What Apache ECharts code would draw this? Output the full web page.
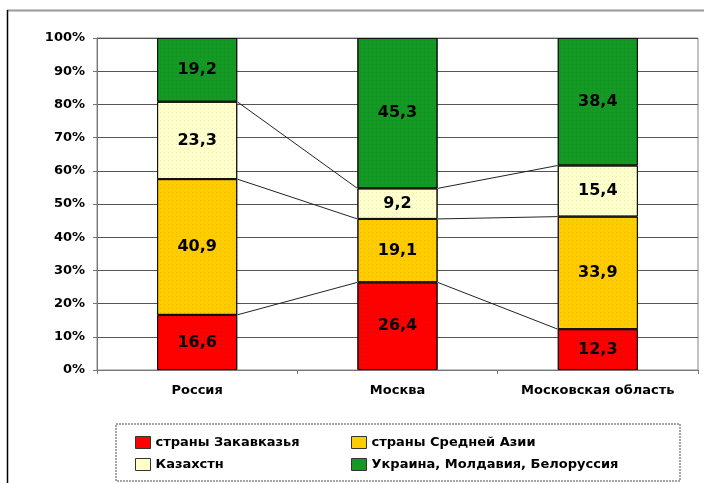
<!DOCTYPE html>
<html>
<head>
<meta charset="utf-8">
<script src="https://cdn.jsdelivr.net/npm/echarts@6/dist/echarts.min.js"></script>
<style>
  html, body { margin: 0; padding: 0; background: #fff; }
  #chart { width: 704px; height: 483px; }
</style>
</head>
<body>
<div id="chart"></div>
<script>
// категории и доли (%)
const categories = ['Россия', 'Москва', 'Московская область'];
const seriesNames = ['страны Закавказья', 'страны Средней Азии', 'Казахстн', 'Украина, Молдавия, Белоруссия'];
const zakavkazie = [16.6, 26.4, 12.3];
const srAzia = [40.9, 19.1, 33.9];
const kazakhstan = [23.3, 9.2, 15.4];
const ukraina = [19.2, 45.3, 38.4];
const colors = ['#ff0000', '#ffcc00', '#ffffcc', '#149a24'];

const allValues = [zakavkazie, srAzia, kazakhstan, ukraina];
const fontFamily = 'DejaVu Sans, sans-serif';

// линии, соединяющие верхние границы сегментов соседних столбцов
const connectors = [];
for (let i = 0; i < categories.length - 1; i++) {
  let a = 0, b = 0;
  for (let s = 0; s < 3; s++) {
    a += allValues[s][i];
    b += allValues[s][i + 1];
    connectors.push([i, a, b]);
  }
}

const chart = echarts.init(document.getElementById('chart'));

const barSeries = allValues.map((vals, idx) => ({
  name: seriesNames[idx],
  type: 'bar',
  stack: 'total',
  barWidth: '40%',
  data: vals,
  itemStyle: {
    color: colors[idx], borderColor: '#111', borderWidth: 1,
    decal: {
      symbol: 'rect', symbolSize: 1,
      dashArrayX: [1, 3], dashArrayY: [1, 3],
      color: 'rgba(0,0,0,0.08)'
    }
  },
  label: {
    show: true,
    position: 'inside',
    color: '#000',
    fontWeight: 'bold',
    fontSize: 16,
    fontFamily: fontFamily,
    formatter: (p) => p.value.toFixed(1).replace('.', ',')
  },
  z: 3
}));

const legendText = { fontSize: 13, fontWeight: 'bold', color: '#000', fontFamily: fontFamily };

const option = {
  animation: false,
  color: colors,
  grid: {
    left: 97, right: 6, top: 38, bottom: 113,
    show: true, borderColor: '#888', borderWidth: 1
  },
  legend: [
    {
      data: [seriesNames[0], seriesNames[2]],
      orient: 'vertical',
      left: 130, top: 431,
      itemWidth: 15, itemHeight: 12, itemGap: 9,
      icon: 'rect',
      itemStyle: { borderColor: '#333', borderWidth: 1, decal: 'none' },
      textStyle: legendText
    },
    {
      data: [seriesNames[1], seriesNames[3]],
      orient: 'vertical',
      left: 346, top: 431,
      itemWidth: 15, itemHeight: 12, itemGap: 9,
      icon: 'rect',
      itemStyle: { borderColor: '#333', borderWidth: 1, decal: 'none' },
      textStyle: legendText
    }
  ],
  xAxis: {
    type: 'category',
    data: categories,
    axisLine: { lineStyle: { color: '#777' } },
    axisTick: { show: true, length: 4, lineStyle: { color: '#777' } },
    axisLabel: { interval: 0, hideOverlap: false, color: '#000', fontWeight: 'bold', fontSize: 13, fontFamily: fontFamily, margin: 14 }
  },
  yAxis: {
    type: 'value',
    min: 0, max: 100, interval: 10,
    axisLine: { show: true, lineStyle: { color: '#777' } },
    axisTick: { show: true, length: 4, lineStyle: { color: '#777' } },
    splitLine: { lineStyle: { color: '#555', width: 1 } },
    axisLabel: { color: '#000', fontSize: 13, fontWeight: 'bold', fontFamily: fontFamily, formatter: '{value}%', margin: 12 }
  },
  series: [
    ...barSeries,
    {
      type: 'custom',
      name: 'lines',
      data: connectors,
      encode: { x: 0, y: 1 },
      z: 2,
      renderItem: (params, api) => {
        const i = api.value(0);
        const p1 = api.coord([i, api.value(1)]);
        const p2 = api.coord([i + 1, api.value(2)]);
        const half = api.size([1, 0])[0] * 0.2;
        return {
          type: 'line',
          shape: { x1: p1[0] + half, y1: p1[1], x2: p2[0] - half, y2: p2[1] },
          style: { stroke: '#222', lineWidth: 1 }
        };
      }
    }
  ],
  graphic: [
    { type: 'line', shape: { x1: 7, y1: 10.5, x2: 704, y2: 10.5 }, style: { stroke: '#999', lineWidth: 2 } },
    { type: 'line', shape: { x1: 7.5, y1: 10, x2: 7.5, y2: 483 }, style: { stroke: '#000', lineWidth: 1.5 } },
    { type: 'rect', shape: { x: 116, y: 424, width: 564, height: 57 }, style: { fill: 'none', stroke: '#888', lineWidth: 1.5, lineDash: [2, 1] }, z: -1 }
  ]
};

chart.setOption(option);
</script>
</body>
</html>
